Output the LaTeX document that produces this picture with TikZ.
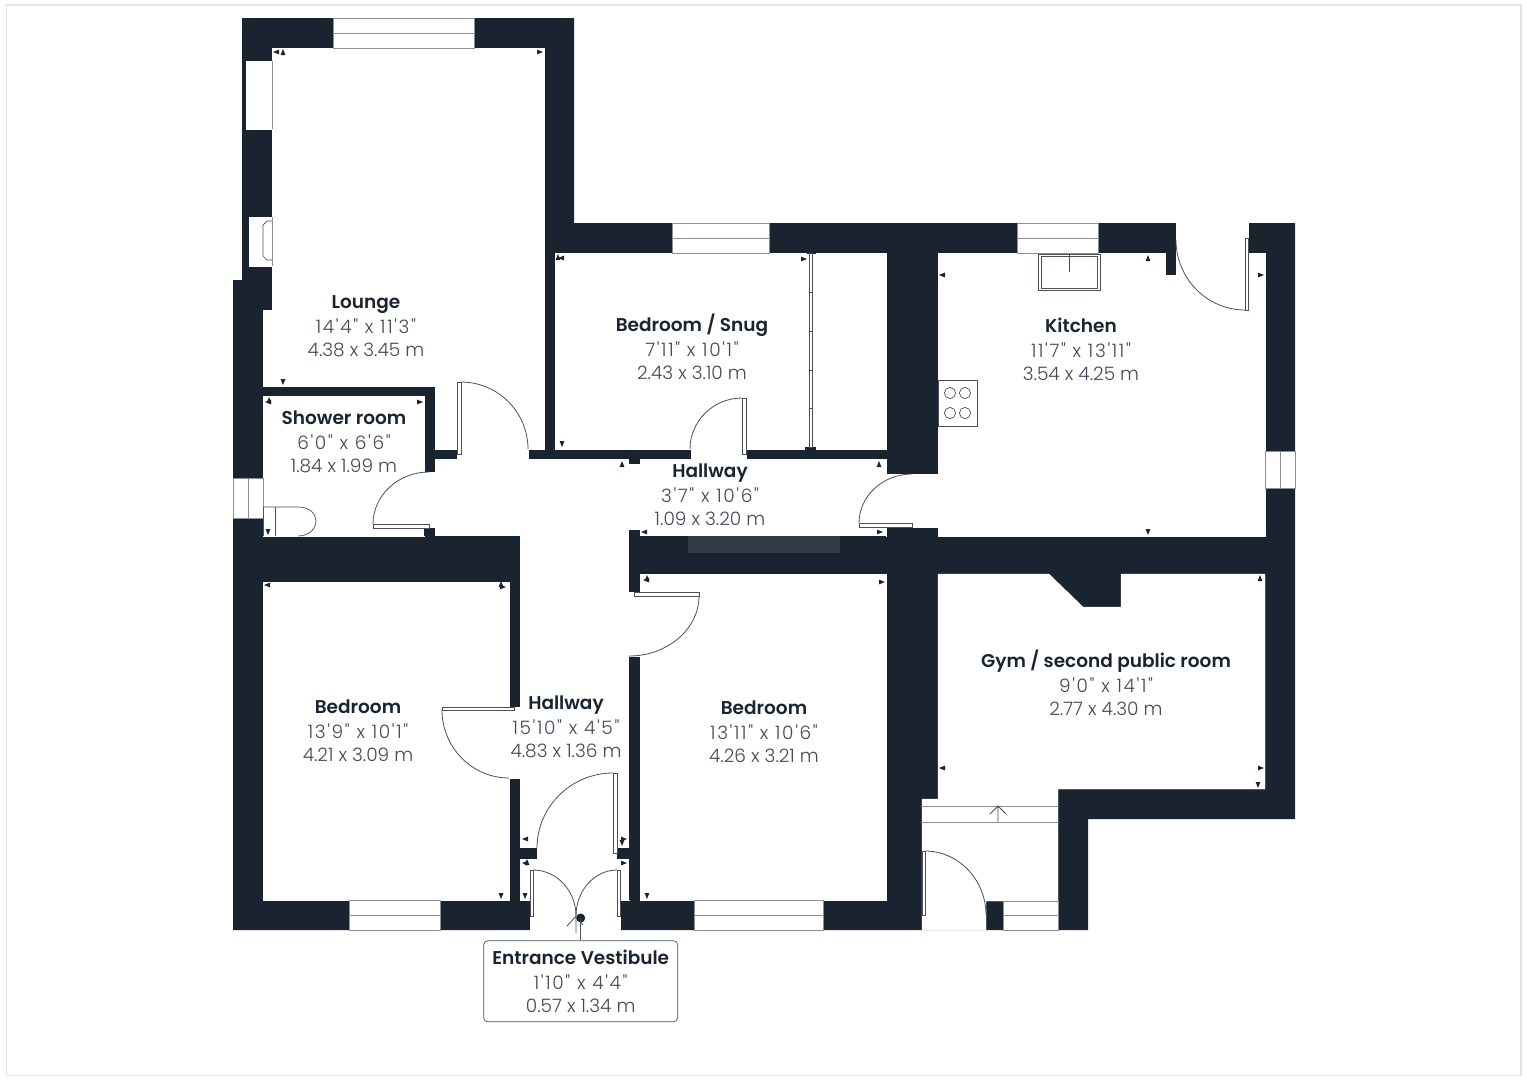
\documentclass[tikz,border=0pt]{standalone}
\usepackage{fontspec}
\setmainfont{Poppins Light}[BoldFont={Poppins SemiBold},Ligatures=TeXOff]
\usetikzlibrary{calc}
\definecolor{wallcol}{HTML}{1A2330}
\definecolor{bandcol}{HTML}{333A47}
\definecolor{glasscol}{HTML}{8C8F94}
\definecolor{linecol}{HTML}{4A4F5A}
\definecolor{textcol}{HTML}{434957}
\definecolor{framecol}{HTML}{E3E3E3}
\tikzset{
  wall/.style={fill=wallcol},
  room/.style={fill=white,draw=white,line width=.3pt},
  glazing/.style={fill=white,draw=glasscol,line width=.9pt},
  fitting/.style={draw=linecol,line width=.7pt},
  leaf/.style={fill=white,draw=linecol,line width=.7pt},
  swingline/.style={draw=linecol,line width=.8pt},
  roomlabel/.style={align=center,text=textcol,font=\fontsize{18.5}{23}\selectfont,inner sep=0pt},
}
\newcommand{\roomname}[1]{{\bfseries\color{wallcol}#1}}
\newcommand{\footinch}[1]{{\addfontfeature{LetterSpace=9}#1}}
\newcommand{\swing}[3]{\draw[swingline] (#1) .. controls ($(#1)!.55!(#2)$) and ($(#3)!.55!(#2)$) .. (#3);}
\begin{document}
\begin{tikzpicture}[x=1pt,y=-1pt]
\useasboundingbox (0,0) rectangle (1527,1080);
\draw[framecol,line width=1.5pt] (6.5,5) rectangle (1521,1075.5);
% outer walls
\fill[wall] (242,18) -- (574,18) -- (574,223) -- (1295,223) -- (1295,819) -- (1088,819) -- (1088,930)
  -- (233,930) -- (233,280) -- (242,280) -- cycle;
% rooms
\path[room] (272,48) -- (544,48) -- (544,449) -- (435,449) -- (435,386) -- (263,386) -- (263,310) -- (272,310) -- cycle;
\path[room] (263,396) rectangle (424,536);
\path[room] (420,472) rectangle (435,528);
\path[room] (555,253) rectangle (886,449);
\path[room] (435,459) -- (886,459) -- (886,536) -- (629,536) -- (629,900) -- (520,900) -- (520,536) -- (435,536) -- cycle;
\fill[wall] (424,528) rectangle (435,536);
\fill[wall] (435,536) rectangle (520,582);
\path[room] (263,582) rectangle (509,900);
\path[room] (640,574) rectangle (886,900);
\path[room] (938,253) -- (1176,253) -- (1176,223) -- (1248,223) -- (1248,253) -- (1265,253) -- (1265,536) -- (938,536) -- cycle;
\path[room] (880,474) rectangle (945,527);
\path[room] (938,574) -- (1049,574) -- (1083,607) -- (1121,607) -- (1121,574) -- (1265,574) -- (1265,789)
  -- (1058,789) -- (1058,901) -- (986,901) -- (986,930) -- (922,930) -- (922,799) -- (938,799) -- cycle;
\path[room] (530,895) rectangle (620,931);
\path[room] (457,445) rectangle (528,463);
\path[room] (691,445) rectangle (746,463);
\path[room] (505,707) rectangle (524,778);
\path[room] (625,592) rectangle (644,657);
% wall pieces left by the openings
\fill[wall] (629,530) rectangle (640,592);
\fill[wall] (629,536) rectangle (886,574);
\fill[wall] (629,657) rectangle (640,900);
\fill[wall] (520,848) rectangle (537,859);
\fill[wall] (617,848) rectangle (629,859);
\fill[wall] (1166,253) rectangle (1176,275);
\fill[wall] (629,459) rectangle (640,464);
\fill[wall] (805,447) rectangle (816,450);
\fill[wall] (807,251) rectangle (816,254);
\fill[bandcol] (688,536) rectangle (840,553);
% windows
\path[room] (246,61) rectangle (272,129);
\path[room] (249,217) rectangle (272,266);
\draw[glasscol,line width=.7pt] (272,61) -- (272,129) (272,217) -- (272,266);
\draw[glazing] (333,18) rectangle (474,48);
\draw[glasscol,line width=.9pt] (333,33) -- (474,33);
\draw[glazing] (672,223) rectangle (769,253);
\draw[glasscol,line width=.9pt] (672,238) -- (769,238);
\draw[glazing] (1017,223) rectangle (1098,253);
\draw[glasscol,line width=.9pt] (1017,238) -- (1098,238);
\draw[glazing] (1265,451) rectangle (1295,488);
\draw[glasscol,line width=.9pt] (1280,451) -- (1280,488);
\draw[glazing] (233,478) rectangle (263,518);
\draw[glasscol,line width=.9pt] (248,478) -- (248,518);
\draw[glazing] (349,900) rectangle (440,930);
\draw[glasscol,line width=.9pt] (349,915) -- (440,915);
\draw[glazing] (694,900) rectangle (823,930);
\draw[glasscol,line width=.9pt] (694,915) -- (823,915);
\draw[glazing] (1003,901) rectangle (1058,930);
\draw[glasscol,line width=.9pt] (1003,915) -- (1058,915);
% fittings
\draw[fitting] (272,221) -- (267,221) -- (263,225) -- (263,256) -- (267,260) -- (272,260);
\draw[fitting] (263,507) -- (298,507) .. controls (310,507) and (316,514) .. (316,521) .. controls (316,528) and (310,536) .. (298,536);
\draw[fitting] (263,507) -- (263,536);
\draw[fitting] (275,507) -- (275,536);
\draw[fitting] (1038.5,254) rectangle (1100,290);
\draw[fitting] (1041,256.5) rectangle (1097,288);
\draw[fitting] (1069,254) -- (1069,272);
\draw[fitting] (938,380) rectangle (977,426);
\foreach \x in {950,965} \foreach \y in {393,413} \draw[fitting] (\x,\y) circle (5.6pt);
\draw[fitting] (809,253) rectangle (812,447);
\foreach \y in {292,331,370,408} \draw[fitting] (809,\y) -- (812,\y);
% doors
\draw[leaf] (457,382) rectangle (461,454);
\swing{461,382}{528,382}{528,449}
\draw[leaf] (373,524) rectangle (429,528);
\swing{373,524}{373,472}{429,472}
\draw[leaf] (742,398) rectangle (746,454);
\swing{742,398}{690,398}{690,449}
\draw[leaf] (859,523) rectangle (912,527);
\swing{859,523}{859,474}{912,474}
\draw[leaf] (634,592) rectangle (699,596);
\swing{699,596}{699,656}{629,656}
\draw[leaf] (442,707) rectangle (514,710);
\swing{442,710}{442,778}{509,778}
\draw[leaf] (613,773) rectangle (617,853);
\swing{613,773}{537,773}{537,848}
\draw[leaf] (530,870) rectangle (533,916);
\swing{533,870}{576,870}{576,916}
\draw[leaf] (617,870) rectangle (620,916);
\swing{617,870}{576,870}{576,916}
\draw[leaf] (1245,238) rectangle (1248,310);
\swing{1245,310}{1176,310}{1176,240}
\draw[leaf] (922,851) rectangle (925,915);
\swing{925,851}{986,851}{986,915}
% glazed front of the gym
\draw[glasscol,line width=.9pt] (921,806) -- (1058,806);
\draw[glasscol,line width=.9pt] (921,822) -- (1058,822);
\draw[linecol,line width=.8pt] (998,822) -- (998,806) (990,814) -- (998,806) -- (1006,814);
\draw[linecol,line width=.8pt] (576,916) -- (576,933) (567,926) -- (576,916);
% measuring ticks: x/y/direction
\foreach \x/\y/\a in {276/52/180,283/52/90,540/52/0,283/382/-90,
  561/258/180,558/257/90,804/259/0,562/444/-90,
  268/402/180,269/400/90,420/402/0,268/532/-90,
  267/585/180,503/587/0,501/584/90,501/896/-90,
  525/896/-90,525/839/180,525/863/180,527/862/90,624/839/0,622/843/-90,624/863/0,647/896/-90,
  622/464/90,879/464/90,644/532/180,880/532/0,646/580/180,647/578/90,882/582/0,
  942/275/180,1148/258/90,1261/275/0,1148/532/-90,
  1260/578/90,942/768/180,1261/768/0,1258/785/-90}
  \fill[wall,shift={(\x,\y)},rotate=\a] (3,0) -- (-3,-2.4) -- (-3,2.4) -- cycle;
% labels
\node[roomlabel] (lounge) at (366,326.5) {\roomname{Lounge}\\[2pt]\footinch{14'4" x 11'3"}\\4.38 x 3.45 m};
\node[roomlabel] (shower) at (344,442) {\roomname{Shower room}\\[2pt]\footinch{6'0" x 6'6"}\\1.84 x 1.99 m};
\node[roomlabel] (snug) at (692,347) {\roomname{Bedroom / Snug}\\[2pt]\footinch{7'11" x 10'1"}\\2.43 x 3.10 m};
\node[roomlabel] (kitchen) at (1081,349) {\roomname{Kitchen}\\[2pt]\footinch{11'7" x 13'11"}\\3.54 x 4.25 m};
\node[roomlabel] (hallupper) at (710,495) {\roomname{Hallway}\\[2pt]\footinch{3'7" x 10'6"}\\1.09 x 3.20 m};
\node[roomlabel] (gym) at (1106,682.5) {\roomname{Gym / second public room}\\[2pt]\footinch{9'0" x 14'1"}\\2.77 x 4.30 m};
\node[roomlabel] (halllower) at (566,727) {\roomname{Hallway}\\[2pt]\footinch{15'10" x 4'5"}\\4.83 x 1.36 m};
\node[roomlabel] (bedleft) at (358,731) {\roomname{Bedroom}\\[2pt]\footinch{13'9" x 10'1"}\\4.21 x 3.09 m};
\node[roomlabel] (bedright) at (764,732) {\roomname{Bedroom}\\[2pt]\footinch{13'11" x 10'6"}\\4.26 x 3.21 m};
\node[roomlabel,draw=linecol,line width=.7pt,rounded corners=4pt,minimum width=194pt,minimum height=81pt] (vestibule) at (580.7,981.3)
  {\roomname{Entrance Vestibule}\\[2pt]\footinch{1'10" x 4'4"}\\0.57 x 1.34 m};
\coordinate (vestibuledot) at (580.7,918);
\fill[wall] (vestibuledot) circle (4.5pt);
\draw[linecol,line width=.7pt] (vestibuledot) -- (vestibule.north);
\draw[linecol,line width=.8pt] (583,925) -- (580.7,922);
\end{tikzpicture}
\end{document}
